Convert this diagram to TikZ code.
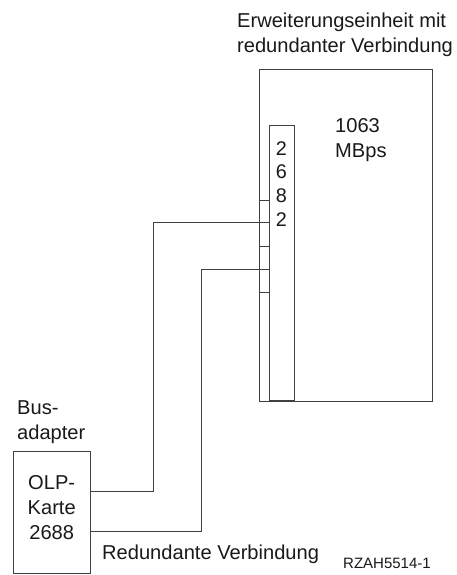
\documentclass[tikz,border=0pt]{standalone}
\usepackage{fontspec}
\setmainfont{Liberation Sans}
\usetikzlibrary{positioning,calc}

\begin{document}
\begin{tikzpicture}[
    x=1pt, y=-1pt,
    font=\fontsize{20.1}{25}\selectfont,
    box/.style={
        draw=black!75,
        line width=0.8pt,
        inner sep=0pt
    },
    wire/.style={
        draw=black!75,
        line width=0.8pt
    },
    txt/.style={
        inner sep=0pt,
        align=left,
        text=black!90
    }
]
\useasboundingbox (0,0) rectangle (456,575);

% Nodes - expansion unit and slot
\node[box, minimum width=173pt, minimum height=332pt] (unit) at (345.5,235) {};
\node[box, minimum width=25pt, minimum height=275pt, anchor=south] (card) at (281.5,401) {};
\node[txt, anchor=north west] (unitlabel) at (237,13) {Erweiterungseinheit mit\\redundanter Verbindung};
\node[txt, align=center, anchor=north, font=\fontsize{19.8}{23.7}\selectfont] (cardlabel) at (card.north) [yshift=-16pt] {2\\6\\8\\2};
\node[txt, anchor=north west] (speed) at (335,118) {1063\\MBps};

% Nodes - bus adapter
\node[box, minimum width=77pt, minimum height=122pt] (olp) at (51.7,512.8) {};
\node[txt, align=center] (olplabel) at (olp) [yshift=5pt] {OLP-\\Karte\\2688};
\node[txt, anchor=north west] (buslabel) at (17,400) {Bus-\\adapter};
\node[txt, anchor=west] (redlabel) at (102,554) {Redundante Verbindung};
\node[txt, anchor=west, font=\fontsize{15}{18}\selectfont] (figid) at (343,563) {RZAH5514-1};

% Ports
\coordinate (a1) at (olp.east |- 0,491);
\coordinate (a2) at (olp.east |- 0,531);
\coordinate (p1) at (card.west |- 0,222.7);
\coordinate (p2) at (card.west |- 0,269);

% Connections
\draw[wire] (a1) -| (153,222.7) -- (p1);
\draw[wire] (a2) -| (201.7,269) -- (p2);
\foreach \y in {200,246,292}
    \draw[wire] (unit.west |- 0,\y) -- (card.west |- 0,\y);

\end{tikzpicture}
\end{document}
